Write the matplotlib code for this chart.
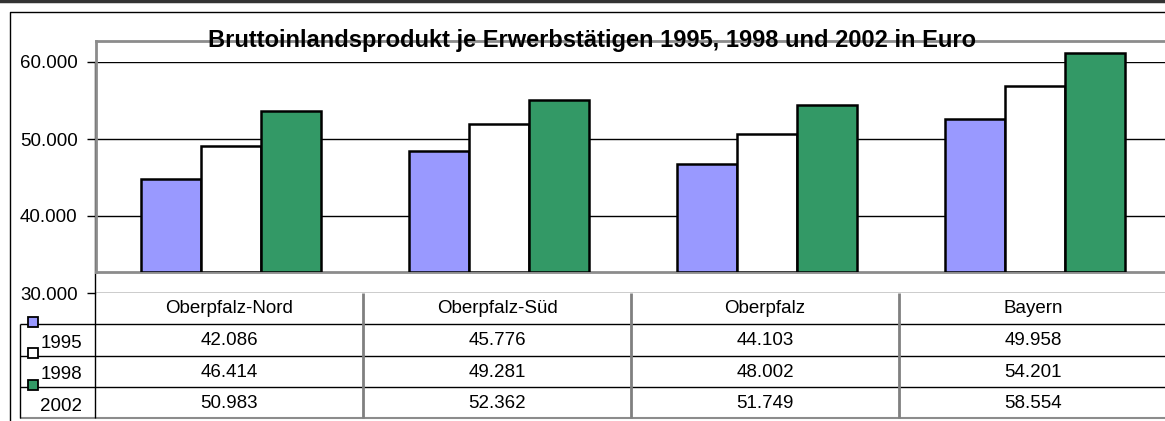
import numpy as np
import matplotlib
matplotlib.use('Agg')
import matplotlib.pyplot as plt
from matplotlib.lines import Line2D

regions = ['Oberpfalz-Nord', 'Oberpfalz-Süd', 'Oberpfalz', 'Bayern']
years = ['1995', '1998', '2002']
bip_1995 = [42086, 45776, 44103, 49958]
bip_1998 = [46414, 49281, 48002, 54201]
bip_2002 = [50983, 52362, 51749, 58554]
yticks = [30000, 40000, 50000, 60000]
title = 'Bruttoinlandsprodukt je Erwerbstätigen 1995, 1998 und 2002 in Euro'

colors = ['#9999FF', '#FFFFFF', '#339966']
series = [bip_1995, bip_1998, bip_2002]

W, H = 1165, 421
plt.rcParams['font.family'] = ['Liberation Sans', 'DejaVu Sans']


def fmt(v):
    return f'{v:,}'.replace(',', '.')


def box(x0, y0, x1, y1):
    # pixel box (origin top left) -> figure fractions
    return [x0 / W, 1 - y1 / H, (x1 - x0) / W, (y1 - y0) / H]


fig = plt.figure(figsize=(W / 100, H / 100), dpi=100)

cat_w = 268
x_left = 95
x_right = x_left + 4 * cat_w
lab_left = 20
fs = 13.5

# value axis with gridlines (sits a bit lower than the bar area, like the excel original)
ax_v = fig.add_axes(box(x_left, 62, x_right, 293))
ax_v.set_xlim(0, 1)
ax_v.set_ylim(30000, 60000)
ax_v.set_yticks(yticks)
ax_v.set_yticklabels([fmt(v) for v in yticks], fontsize=fs)
ax_v.tick_params(axis='y', length=6, width=1, color='black', pad=6.5)
ax_v.set_xticks([])
for s in ['top', 'right', 'bottom']:
    ax_v.spines[s].set_visible(False)
ax_v.spines['left'].set_linewidth(1)
ax_v.grid(axis='y', color='black', lw=1)
ax_v.patch.set_visible(False)

# bar area
ax = fig.add_axes(box(x_left + 1, 41, x_right, 272))
ax.set_facecolor('none')
ax.set_xlim(-0.5 + 1 / cat_w, 3.5)
ax.set_ylim(30000, 60050)
x = np.arange(len(regions))
bw = 0.224
for i, vals in enumerate(series):
    ax.bar(x + (i - 1) * bw + 0.007, np.array(vals) - 30000, bw, bottom=30000,
           color=colors[i], edgecolor='black', linewidth=1.8, zorder=3)
ax.set_xticks([])
ax.set_yticks([])
for s in ['top', 'left', 'bottom']:
    ax.spines[s].set_color('#8c8c8c')
    ax.spines[s].set_linewidth(2)
ax.spines['right'].set_visible(False)

# data table
ax_t = fig.add_axes(box(lab_left, 293, x_right, 418))
xmin = -0.5 - (x_left - lab_left) / cat_w
ax_t.set_xlim(xmin, 3.5)
ax_t.set_ylim(4, 0)
ax_t.axis('off')
ax_t.hlines([1, 2, 3], xmin, 3.5, color='black', lw=1, clip_on=False)
ax_t.hlines(4, xmin, 3.5, color='#8c8c8c', lw=1.5, clip_on=False)
ax_t.vlines(xmin, 1, 4, color='black', lw=1, clip_on=False)
ax_t.vlines(-0.5, 0, 4, color='black', lw=1, clip_on=False)
ax_t.vlines([0.5, 1.5, 2.5], 0, 4, color='#808080', lw=2, clip_on=False)
for j, name in enumerate(regions):
    ax_t.text(j, 0.5, name, ha='center', va='center', fontsize=fs)
for r, vals in enumerate(series):
    for j, v in enumerate(vals):
        ax_t.text(j, r + 1.53, fmt(v), ha='center', va='center', fontsize=fs)
    ax_t.text(xmin + 62 / cat_w, r + 1.62, years[r], ha='right', va='center', fontsize=fs)
    ax_t.plot(xmin + 13 / cat_w, r + 0.93, 's', ms=7.5, mfc=colors[r], mec='black',
              mew=1.3, clip_on=False, zorder=4)

# outer frame
fig.add_artist(Line2D([0, 1], [1 - 1 / H, 1 - 1 / H], color='#333333', lw=2.5))
fig.add_artist(Line2D([9.5 / W, 9.5 / W, 1], [0, 1 - 11.5 / H, 1 - 11.5 / H],
                      color='black', lw=1))

fig.text(592 / W, 1 - 41 / H, title, ha='center', va='center',
         fontsize=17, fontweight='bold')

fig.savefig('out.png', dpi=100)
